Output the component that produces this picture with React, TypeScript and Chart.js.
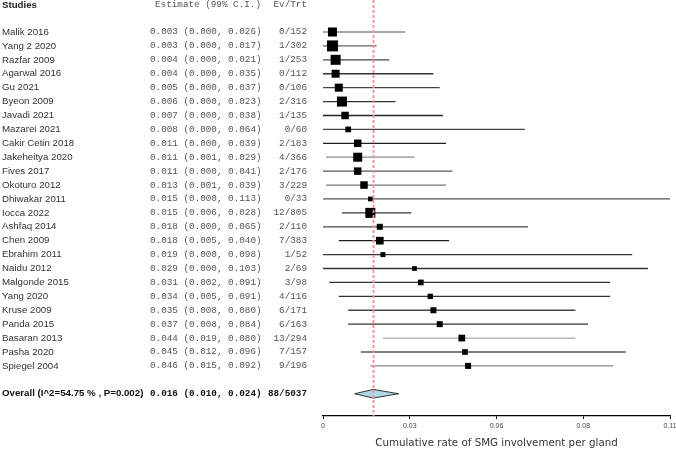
import React, { useEffect, useRef } from 'react';
import { Chart, registerables } from 'chart.js';
Chart.register(...registerables);

const studies = ['Malik 2016', 'Yang 2 2020', 'Razfar 2009', 'Agarwal 2016', 'Gu 2021', 'Byeon 2009', 'Javadi 2021', 'Mazarei 2021', 'Cakir Cetin 2018', 'Jakeheitya 2020', 'Fives 2017', 'Okoturo 2012', 'Dhiwakar 2011', 'Iocca 2022', 'Ashfaq 2014', 'Chen 2009', 'Ebrahim 2011', 'Naidu 2012', 'Malgonde 2015', 'Yang 2020', 'Kruse 2009', 'Panda 2015', 'Basaran 2013', 'Pasha 2020', 'Spiegel 2004'];
const estimates = [0.003, 0.003, 0.004, 0.004, 0.005, 0.006, 0.007, 0.008, 0.011, 0.011, 0.011, 0.013, 0.015, 0.015, 0.018, 0.018, 0.019, 0.029, 0.031, 0.034, 0.035, 0.037, 0.044, 0.045, 0.046];
const lowerCI = [0.000, 0.000, 0.000, 0.000, 0.000, 0.000, 0.000, 0.000, 0.000, 0.001, 0.000, 0.001, 0.000, 0.006, 0.000, 0.005, 0.000, 0.000, 0.002, 0.005, 0.008, 0.008, 0.019, 0.012, 0.015];
const upperCI = [0.026, 0.017, 0.021, 0.035, 0.037, 0.023, 0.038, 0.064, 0.039, 0.029, 0.041, 0.039, 0.113, 0.028, 0.065, 0.040, 0.098, 0.103, 0.091, 0.091, 0.080, 0.084, 0.080, 0.096, 0.092];
const events = [0, 1, 1, 0, 0, 2, 1, 0, 2, 4, 2, 3, 0, 12, 2, 7, 1, 2, 3, 4, 6, 6, 13, 7, 9];
const totals = [152, 302, 253, 112, 106, 316, 135, 60, 183, 366, 176, 229, 33, 805, 110, 383, 52, 69, 98, 116, 171, 163, 294, 157, 196];
// relative study weights (drive box size)
const weights = [9, 11, 10, 8, 8, 10, 7.5, 5.7, 7.5, 9, 7.5, 7.5, 4.7, 10, 6, 7.7, 5, 4.7, 5.7, 5.3, 6, 6, 6.7, 5.7, 6];

const overallLabel = 'Overall (I^2=54.75 % , P=0.002)';
const overallEst = 0.016;
const overallLo = 0.010;
const overallHi = 0.024;
const overallEvents = 88;
const overallTotal = 5037;

const xTickLabels = ['0', '0.03', '0.06', '0.08', '0.11'];
const axisTitle = 'Cumulative rate of SMG involvement per gland';

// styling
const ciColors = ['#888', '#666', '#444', '#333', '#444', '#333', '#222', '#444', '#222', '#888', '#555', '#777', '#555', '#333', '#444', '#222', '#333', '#333', '#333', '#333', '#444', '#333', '#aaa', '#555', '#888'];

export default function App() {
  const ref = useRef<HTMLCanvasElement>(null);
  useEffect(() => {
    document.body.style.margin = '0';
    const yMin = -2.3;
    const yMax = 27.6;
    const overallRow = studies.length + 1;
    const fmt = (v: number) => v.toFixed(3);

    const datasets: any[] = [];
    datasets.push({
      type: 'scatter', label: 'overall', data: [{ x: overallEst, y: yMin }, { x: overallEst, y: yMax }],
      showLine: true, borderColor: '#ff8f8f', borderWidth: 1.8, borderDash: [3, 2], pointRadius: 0, order: 0,
    });
    datasets.push({
      type: 'scatter', label: 'est', data: estimates.map((e, i) => ({ x: e, y: i })),
      pointStyle: 'rect', pointRadius: weights.map((w) => w / Math.SQRT2), backgroundColor: '#000',
      borderColor: '#000', borderWidth: 0, order: 1,
    });
    studies.forEach((s, i) => {
      datasets.push({
        type: 'scatter', label: s, data: [{ x: lowerCI[i], y: i }, { x: upperCI[i], y: i }],
        showLine: true, borderColor: ciColors[i], borderWidth: 1.3, pointRadius: 0, order: 2,
      });
    });

    const diamondPlugin = {
      id: 'diamond',
      beforeDatasetsDraw(chart: any) {
        const { ctx, scales } = chart;
        const xs = scales.x, ys = scales.y;
        const yc = ys.getPixelForValue(overallRow);
        const h = Math.abs(ys.getPixelForValue(overallRow + 0.31) - yc);
        ctx.save();
        ctx.beginPath();
        ctx.moveTo(xs.getPixelForValue(overallLo), yc);
        ctx.lineTo(xs.getPixelForValue(overallEst), yc - h);
        ctx.lineTo(xs.getPixelForValue(overallHi), yc);
        ctx.lineTo(xs.getPixelForValue(overallEst), yc + h);
        ctx.closePath();
        ctx.fillStyle = '#add8e6';
        ctx.fill();
        ctx.strokeStyle = '#333';
        ctx.lineWidth = 1;
        ctx.stroke();
        ctx.restore();
      },
    };

    const textPlugin = {
      id: 'texts',
      afterDraw(chart: any) {
        const { ctx, scales } = chart;
        const ys = scales.y;
        const sans = 'Liberation Sans, Arial, sans-serif';
        const mono = 'Liberation Mono, Courier New, monospace';
        ctx.save();
        ctx.textBaseline = 'middle';
        const yH = ys.getPixelForValue(-1.95);
        ctx.fillStyle = '#222';
        ctx.font = `bold 9.7px ${sans}`;
        ctx.textAlign = 'left';
        ctx.fillText('Studies', 2, yH);
        ctx.font = `9.3px ${mono}`;
        ctx.fillStyle = '#555';
        ctx.fillText('Estimate (99% C.I.)', 155, yH);
        ctx.textAlign = 'right';
        ctx.fillText('Ev/Trt', 307, yH);
        studies.forEach((s, i) => {
          const y = ys.getPixelForValue(i);
          ctx.textAlign = 'left';
          ctx.font = `9.7px ${sans}`;
          ctx.fillStyle = '#333';
          ctx.fillText(s, 2, y);
          ctx.font = `9.3px ${mono}`;
          ctx.fillStyle = '#555';
          ctx.fillText(`${fmt(estimates[i])} (${fmt(lowerCI[i])}, ${fmt(upperCI[i])})`, 150, y);
          ctx.textAlign = 'right';
          ctx.fillText(`${events[i]}/${totals[i]}`, 307, y);
        });
        const yo = ys.getPixelForValue(overallRow);
        ctx.fillStyle = '#111';
        ctx.textAlign = 'left';
        ctx.font = `bold 9.7px ${sans}`;
        ctx.fillText(overallLabel, 2, yo);
        ctx.font = `bold 9.3px ${mono}`;
        ctx.fillText(`${fmt(overallEst)} (${fmt(overallLo)}, ${fmt(overallHi)})`, 150, yo);
        ctx.textAlign = 'right';
        ctx.fillText(`${overallEvents}/${overallTotal}`, 307, yo);
        ctx.restore();
      },
    };

    const chart = new Chart(ref.current as HTMLCanvasElement, {
      type: 'scatter',
      data: { datasets },
      options: {
        animation: false,
        responsive: false,
        layout: { autoPadding: false, padding: { left: 323, right: 6, top: 0, bottom: 0 } },
        plugins: { legend: { display: false }, tooltip: { enabled: false } },
        scales: {
          x: {
            type: 'linear', min: 0, max: 0.11, position: 'bottom',
            ticks: {
              count: 5, autoSkip: false, maxRotation: 0, padding: 3, color: '#444',
              font: { family: 'Liberation Sans', size: 7 },
              callback: (_v: any, i: number) => xTickLabels[i],
            },
            grid: { drawOnChartArea: false, drawTicks: true, tickLength: 3, color: '#000', lineWidth: 1 },
            border: { display: true, color: '#000', width: 1.3 },
            title: {
              display: true, text: axisTitle, color: '#333',
              font: { family: 'DejaVu Sans', size: 10.3, lineHeight: 1.1 },
              padding: { top: 0, bottom: 0 },
            },
            afterFit: (s: any) => { s.height = 33; s.paddingLeft = 0; s.paddingRight = 0; },
          },
          y: { type: 'linear', min: yMin, max: yMax, reverse: true, display: false },
        },
      } as any,
      plugins: [diamondPlugin, textPlugin],
    });
    return () => chart.destroy();
  }, []);
  return (
    <div style={{ position: 'fixed', left: 0, top: 0, width: 676, height: 449 }}>
      <canvas ref={ref} width={676} height={449} />
    </div>
  );
}
